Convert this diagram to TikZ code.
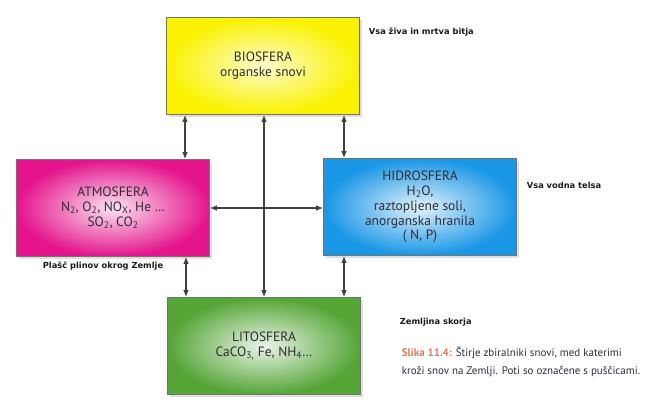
\documentclass[tikz,border=0pt]{standalone}
\usepackage{fontspec}
\setmainfont{PT Sans}
\newfontfamily\notefont{DejaVu Sans}
\usetikzlibrary{positioning,arrows.meta,shadows}
\definecolor{bioYellow}{RGB}{250,242,0}
\definecolor{atmoPink}{RGB}{228,20,140}
\definecolor{hidroBlue}{RGB}{25,150,230}
\definecolor{litoGreen}{RGB}{85,165,55}
\definecolor{captionRed}{RGB}{222,122,92}
\definecolor{textGray}{RGB}{45,45,55}

\begin{document}
\begin{tikzpicture}[x=1pt, y=-1pt, line width=1.1pt, >={Latex[length=7pt,width=5.5pt]},
    sphere/.style={draw=black!55, line width=0.7pt, minimum width=193pt, minimum height=97pt,
        align=center, text=textGray, font=\fontsize{13.5}{14.8}\selectfont,
        drop shadow={opacity=0.25, shadow xshift=2pt, shadow yshift=-2pt}},
    note/.style={anchor=west, text=black!90, font=\notefont\bfseries\fontsize{8.3}{10}\selectfont},
    flow/.style={<->, draw=black!75}]
    \useasboundingbox (0,0) rectangle (648,408);

    % the four reservoirs
    \node[sphere, inner color=bioYellow!20, outer color=bioYellow] (bio) at (263,66)
        {BIOSFERA\\organske snovi};
    \node[sphere, inner color=atmoPink!12, outer color=atmoPink] (atmo) at (113,208)
        {ATMOSFERA\\N\textsubscript{2}, O\textsubscript{2}, NO\textsubscript{X}, He \dots\\SO\textsubscript{2}, CO\textsubscript{2}};
    \node[sphere, inner color=hidroBlue!12, outer color=hidroBlue] (hidro) at (420,207)
        {HIDROSFERA\\H\textsubscript{2}O,\\raztopljene soli,\\anorganska hranila\\( N, P)};
    \node[sphere, inner color=litoGreen!12, outer color=litoGreen] (lito) at (264,346)
        {LITOSFERA\\CaCO\textsubscript{3,} Fe, NH\textsubscript{4}\dots};

    % side notes
    \node[note] (bioNote) at (365,32) {Vsa živa in mrtva bitja};
    \node[note] (hidroNote) at (523,185) {Vsa vodna telsa};
    \node[note] (atmoNote) at (39,266) {Plašč plinov okrog Zemlje};
    \node[note] (litoNote) at (396,322) {Zemljina skorja};

    \node[anchor=north west, align=left, text=textGray, font=\fontsize{11}{18}\selectfont] (caption) at (398,343)
        {\textcolor{captionRed}{\bfseries Slika 11.4:} Štirje zbiralniki snovi, med katerimi\\
         kroži snov na Zemlji. Poti so označene s puščicami.};

    % paths between reservoirs
    \draw[flow] ([xshift=-78pt]bio.south) -- ([xshift=-78pt]bio.south |- atmo.north);
    \draw[flow] ([xshift=81pt]bio.south) -- ([xshift=81pt]bio.south |- hidro.north);
    \draw[flow] ([xshift=1pt]bio.south) -- ([xshift=1pt]bio.south |- lito.north);
    \draw[flow] (atmo.east) -- (atmo.east -| hidro.west);
    \draw[flow] ([xshift=-78pt]lito.north) -- ([xshift=-78pt]lito.north |- atmo.south);
    \draw[flow] ([xshift=80pt]lito.north) -- ([xshift=80pt]lito.north |- hidro.south);
\end{tikzpicture}
\end{document}
